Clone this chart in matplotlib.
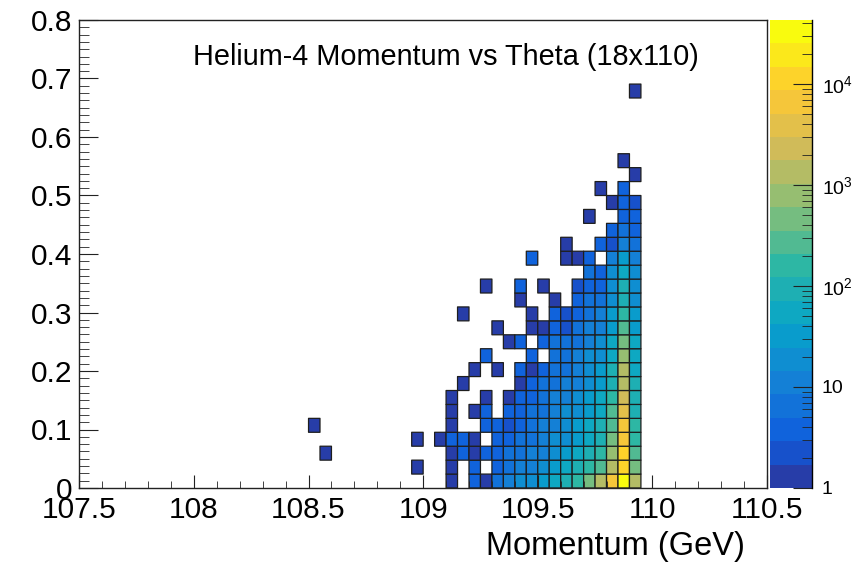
import numpy as np
import matplotlib.pyplot as plt
from matplotlib.colors import LinearSegmentedColormap, ListedColormap, BoundaryNorm
from matplotlib.ticker import MultipleLocator, LogLocator, FuncFormatter, NullFormatter

plt.rcParams['font.family'] = ['Liberation Sans', 'DejaVu Sans']
plt.rcParams['mathtext.fontset'] = 'custom'
plt.rcParams['mathtext.rm'] = 'Liberation Sans'

TITLE = "Helium-4 Momentum vs Theta (18x110)"
X_TITLE = "Momentum (GeV)"

# histogram binning
x_min, x_max, n_xbins = 107.5, 110.5, 60
y_min, y_max, n_ybins = 0.0, 1.0, 42
z_min, z_max, n_contours = 1.0, 4.3e4, 20

# lower momentum edge of each column in the filled block (GeV)
block_momentum = [108.95, 109.00, 109.05, 109.10, 109.15, 109.20, 109.25, 109.30, 109.35, 109.40,
                  109.45, 109.50, 109.55, 109.60, 109.65, 109.70, 109.75, 109.80, 109.85, 109.90]

# entries per cell, one row per theta bin (row 0 = lowest theta)
block_counts = [
    [0, 0, 0, 1, 0, 4, 1, 7, 11, 19, 22, 35, 60, 100, 170, 420, 1300, 6000, 33000, 1250],
    [1, 0, 0, 1, 0, 4, 0, 4, 7, 11, 11, 19, 32, 55, 95, 160, 270, 1350, 11500, 460],
    [0, 0, 0, 1, 4, 1, 4, 4, 7, 7, 11, 11, 19, 32, 55, 95, 160, 790, 11500, 270],
    [1, 0, 1, 4, 4, 1, 0, 4, 4, 7, 7, 11, 19, 19, 32, 55, 95, 460, 6700, 160],
    [0, 0, 0, 1, 0, 0, 4, 4, 2, 4, 7, 11, 11, 19, 32, 55, 95, 270, 6700, 160],
    [0, 0, 0, 1, 0, 1, 4, 0, 4, 4, 7, 7, 11, 19, 19, 32, 55, 270, 3900, 95],
    [0, 0, 0, 1, 0, 0, 1, 0, 1, 4, 4, 7, 11, 11, 19, 32, 55, 160, 2300, 95],
    [0, 0, 0, 0, 1, 0, 0, 0, 0, 1, 4, 7, 7, 11, 11, 19, 32, 95, 1350, 95],
    [0, 0, 0, 0, 0, 1, 0, 1, 0, 4, 1, 4, 7, 7, 11, 19, 32, 95, 1350, 55],
    [0, 0, 0, 0, 0, 0, 4, 0, 0, 0, 4, 0, 7, 7, 11, 19, 19, 55, 790, 55],
    [0, 0, 0, 0, 0, 0, 0, 0, 1, 4, 0, 4, 7, 7, 7, 11, 19, 55, 460, 55],
    [0, 0, 0, 0, 0, 0, 0, 1, 0, 0, 1, 1, 4, 2, 7, 11, 11, 32, 270, 32],
    [0, 0, 0, 0, 1, 0, 0, 0, 0, 0, 1, 0, 4, 2, 4, 7, 11, 32, 160, 32],
    [0, 0, 0, 0, 0, 0, 0, 0, 0, 1, 0, 0, 1, 0, 4, 7, 7, 19, 95, 19],
    [0, 0, 0, 0, 0, 0, 1, 0, 0, 4, 0, 1, 0, 0, 2, 4, 4, 19, 95, 19],
    [0, 0, 0, 0, 0, 0, 0, 0, 0, 0, 0, 0, 0, 0, 0, 7, 4, 19, 55, 19],
    [0, 0, 0, 0, 0, 0, 0, 0, 0, 0, 4, 0, 0, 1, 1, 4, 0, 11, 32, 11],
    [0, 0, 0, 0, 0, 0, 0, 0, 0, 0, 0, 0, 0, 1, 0, 0, 4, 2, 11, 7],
    [0, 0, 0, 0, 0, 0, 0, 0, 0, 0, 0, 0, 0, 0, 0, 0, 0, 4, 7, 4],
    [0, 0, 0, 0, 0, 0, 0, 0, 0, 0, 0, 0, 0, 0, 0, 1, 0, 0, 4, 4],
    [0, 0, 0, 0, 0, 0, 0, 0, 0, 0, 0, 0, 0, 0, 0, 0, 0, 1, 4, 2],
    [0, 0, 0, 0, 0, 0, 0, 0, 0, 0, 0, 0, 0, 0, 0, 0, 1, 0, 4, 0],
    [0, 0, 0, 0, 0, 0, 0, 0, 0, 0, 0, 0, 0, 0, 0, 0, 0, 0, 0, 1],
    [0, 0, 0, 0, 0, 0, 0, 0, 0, 0, 0, 0, 0, 0, 0, 0, 0, 0, 1, 0],
    [0, 0, 0, 0, 0, 0, 0, 0, 0, 0, 0, 0, 0, 0, 0, 0, 0, 0, 0, 0],
    [0, 0, 0, 0, 0, 0, 0, 0, 0, 0, 0, 0, 0, 0, 0, 0, 0, 0, 0, 0],
    [0, 0, 0, 0, 0, 0, 0, 0, 0, 0, 0, 0, 0, 0, 0, 0, 0, 0, 0, 0],
    [0, 0, 0, 0, 0, 0, 0, 0, 0, 0, 0, 0, 0, 0, 0, 0, 0, 0, 0, 0],
    [0, 0, 0, 0, 0, 0, 0, 0, 0, 0, 0, 0, 0, 0, 0, 0, 0, 0, 0, 1],
]

# isolated entries left of the block
stray_momentum = [108.50, 108.55]
stray_theta_bin = [4, 2]
stray_counts = [1, 1]

# ROOT kBird palette
bird_stops = [0.0000, 0.1250, 0.2500, 0.3750, 0.5000, 0.6250, 0.7500, 0.8750, 1.0000]
bird_red = [0.2082, 0.0592, 0.0780, 0.0232, 0.1802, 0.5301, 0.8186, 0.9956, 0.9764]
bird_green = [0.1664, 0.3599, 0.5041, 0.6419, 0.7178, 0.7492, 0.7328, 0.7862, 0.9832]
bird_blue = [0.5293, 0.8684, 0.8385, 0.7914, 0.6425, 0.4662, 0.3499, 0.1968, 0.0539]


def bird_colormap():
    cdict = {
        'red': [(s, v, v) for s, v in zip(bird_stops, bird_red)],
        'green': [(s, v, v) for s, v in zip(bird_stops, bird_green)],
        'blue': [(s, v, v) for s, v in zip(bird_stops, bird_blue)],
    }
    smooth = LinearSegmentedColormap('bird', cdict, N=256)
    # one colour per contour level, picked the way ROOT does
    return ListedColormap([smooth((k + 0.99) / n_contours) for k in range(n_contours)])


def fill_histogram():
    z = np.zeros((n_ybins, n_xbins))
    bw = (x_max - x_min) / n_xbins
    for row, counts in enumerate(block_counts):
        for m, n in zip(block_momentum, counts):
            z[row, int(round((m - x_min) / bw))] += n
    for m, r, n in zip(stray_momentum, stray_theta_bin, stray_counts):
        z[r, int(round((m - x_min) / bw))] += n
    return np.ma.masked_less(z, z_min)


def label_fmt(v, pos):
    return '%g' % round(v, 3)


def z_fmt(v, pos):
    e = int(round(np.log10(v)))
    if e <= 1:
        return '%d' % round(v)
    return r'$\mathregular{10^{%d}}$' % e


cmap = bird_colormap()
levels = np.logspace(np.log10(z_min), np.log10(z_max), n_contours + 1)
norm = BoundaryNorm(levels, n_contours)

x_edges = np.linspace(x_min, x_max, n_xbins + 1)
y_edges = np.linspace(y_min, y_max, n_ybins + 1)
z = fill_histogram()

W, H = 859, 571
fig = plt.figure(figsize=(W / 100, H / 100), dpi=100)
ax = fig.add_axes([79.3 / W, (H - 488) / H, (767 - 79.3) / W, (488 - 20) / H])
cax = fig.add_axes([770 / W, (H - 488) / H, 42 / W, (488 - 20) / H])

ax.pcolor(x_edges, y_edges, z, cmap=cmap, norm=norm, edgecolors='#1e1e1e', linewidth=0.9)
ax.set_xlim(x_min, x_max)
ax.set_ylim(0, 0.8)
ax.xaxis.set_major_locator(MultipleLocator(0.5))
ax.xaxis.set_minor_locator(MultipleLocator(0.1))
ax.yaxis.set_major_locator(MultipleLocator(0.1))
ax.yaxis.set_minor_locator(MultipleLocator(0.0125))
ax.xaxis.set_major_formatter(FuncFormatter(label_fmt))
ax.yaxis.set_major_formatter(FuncFormatter(label_fmt))
ax.tick_params(which='both', direction='in', top=False, right=False, labelsize=21.5, color='#222222')
ax.tick_params(axis='x', which='major', length=9.5, pad=6)
ax.tick_params(axis='x', which='minor', length=5)
ax.tick_params(axis='y', which='major', length=14, pad=5)
ax.tick_params(axis='y', which='minor', length=7)
for sp in ax.spines.values():
    sp.set_linewidth(1.0)
    sp.set_color('#222222')

# colour scale
band = np.arange(n_contours).reshape(-1, 1)
cax.pcolormesh([0, 1], levels, band, cmap=cmap, vmin=-0.5, vmax=n_contours - 0.5)
cax.set_yscale('log')
cax.set_ylim(z_min, z_max)
cax.set_xlim(0, 1)
cax.set_xticks([])
for name in ['left', 'top', 'bottom']:
    cax.spines[name].set_visible(False)
cax.spines['right'].set_linewidth(1.0)
cax.yaxis.set_ticks_position('right')
cax.yaxis.set_major_locator(LogLocator(base=10, numticks=10))
cax.yaxis.set_minor_locator(LogLocator(base=10, subs=np.arange(2, 10), numticks=20))
cax.yaxis.set_major_formatter(FuncFormatter(z_fmt))
cax.yaxis.set_minor_formatter(NullFormatter())
cax.tick_params(which='both', direction='in', labelsize=14, color='#222222')
cax.tick_params(which='major', length=14, pad=7)
cax.tick_params(which='minor', length=7)

fig.text(446 / W, 1 - 57 / H, TITLE, ha='center', va='center', fontsize=20.8)
fig.text(745 / W, 1 - 546 / H, X_TITLE, ha='right', va='center', fontsize=23.5)

fig.savefig('out.png', dpi=100)
